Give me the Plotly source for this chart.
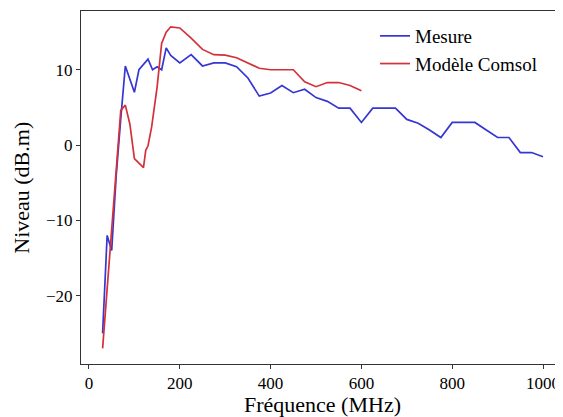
import plotly.graph_objects as go

mesure_f = [30, 40, 50, 60, 70, 80, 100, 110, 130, 140, 150, 160, 170, 180, 200, 225, 250, 275, 300,
            325, 350, 375, 400, 425, 450, 475, 500, 525, 550, 575, 600, 625, 650, 675, 700, 725, 750,
            775, 800, 825, 850, 875, 900, 925, 950, 975, 1000]
mesure_v = [-25.0, -12.0, -14.0, -4.0, 3.5, 10.5, 7.0, 10.0, 11.4, 10.0, 10.4, 10.0, 12.9, 11.9, 10.9, 12.0,
            10.5, 10.9, 10.9, 10.4, 8.9, 6.5, 6.9, 7.9, 6.95, 7.4, 6.3, 5.8, 4.9, 4.9, 3.0, 4.9, 4.9, 4.9,
            3.4, 2.9, 2.0, 1.0, 3.0, 3.0, 3.0, 2.0, 1.0, 1.0, -1.0, -1.0, -1.55]

comsol_f = [30, 70, 80, 90, 100, 120, 125, 130, 138, 150, 160, 170, 180, 200, 225, 250, 275, 300,
            325, 350, 375, 400, 425, 450, 475, 500, 525, 550, 575, 600]
comsol_v = [-27.0, 4.6, 5.3, 2.8, -1.8, -3.0, -0.7, -0.1, 2.4, 7.7, 13.5, 15.0, 15.7, 15.55, 14.2, 12.7,
            12.0, 11.95, 11.6, 10.9, 10.2, 10.0, 10.0, 10.0, 8.4, 7.75, 8.3, 8.3, 7.9, 7.2]

x_ticks = [0, 200, 400, 600, 800, 1000]
y_ticks = [-20, -10, 0, 10]
x_title = "Fréquence (MHz)"
y_title = "Niveau (dB.m)"

FONT = "Liberation Serif, DejaVu Serif, serif"

fig = go.Figure()
fig.add_trace(go.Scatter(x=mesure_f, y=mesure_v, mode="lines", name="Mesure",
                         line=dict(color="#3636d2", width=1.7)))
fig.add_trace(go.Scatter(x=comsol_f, y=comsol_v, mode="lines", name="Modèle Comsol",
                         line=dict(color="#d3313a", width=1.7)))

axis_common = dict(ticks="outside", ticklen=4, tickcolor="#333", tickwidth=1,
                   showline=True, linecolor="#333", linewidth=1, showgrid=False,
                   zeroline=False, automargin=False,
                   tickfont=dict(family=FONT, size=17, color="black"))

# page body has an 8px margin, so figure is offset by 8px
fig.update_layout(
    width=555, height=409,
    margin=dict(l=73, r=0, t=3, b=53),
    paper_bgcolor="white", plot_bgcolor="white",
    font=dict(family=FONT, color="black"),
    showlegend=True,
    legend=dict(x=0.61, y=0.983, xanchor="left", yanchor="top",
                bgcolor="rgba(0,0,0,0)", borderwidth=0,
                font=dict(family=FONT, size=19, color="black")),
    xaxis=dict(range=[-17.6, 1044], tickvals=x_ticks, mirror=True, **axis_common),
    yaxis=dict(range=[-29.08, 17.8], tickvals=y_ticks, mirror=False, **axis_common),
    annotations=[
        dict(text=x_title, xref="paper", yref="paper", x=0.5, y=-0.116,
             xanchor="center", yanchor="middle", showarrow=False,
             font=dict(family=FONT, size=22, color="black")),
        dict(text=y_title, xref="paper", yref="paper", x=-0.124, y=0.5,
             xanchor="center", yanchor="middle", showarrow=False, textangle=-90,
             font=dict(family=FONT, size=22, color="black")),
    ],
)

fig.write_html("out.html")
